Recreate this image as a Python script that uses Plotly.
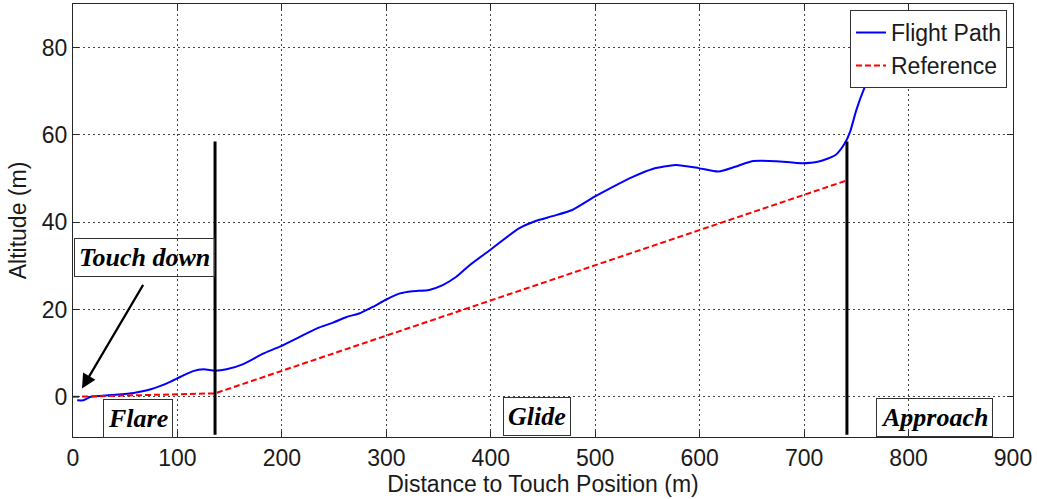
import plotly.graph_objects as go

# Measured flight path (distance to touch position, altitude)
path_x = [4, 10, 17, 36, 58, 71, 90, 103, 115, 125, 136, 147, 163, 182, 198, 220,
          236, 249, 262, 274, 287, 300, 313, 325, 341, 354, 367, 380, 399, 427, 443,
          459, 478, 499, 516, 536, 555, 577, 599, 618, 634, 650, 673, 698, 714, 730,
          739, 744, 750, 757, 763, 775, 790]
path_y = [-0.8, -0.8, 0.0, 0.4, 0.9, 1.5, 3.1, 4.6, 5.9, 6.3, 6.0, 6.3, 7.5, 9.9,
          11.5, 14.1, 15.9, 17.0, 18.3, 19.1, 20.6, 22.3, 23.7, 24.2, 24.5, 25.6,
          27.5, 30.2, 33.6, 38.6, 40.3, 41.4, 42.8, 45.8, 48.0, 50.4, 52.2, 53.1,
          52.4, 51.6, 52.7, 54.0, 54.0, 53.5, 53.9, 55.4, 58.1, 60.7, 65.7, 70.3,
          73.4, 78.5, 82.5]

# Reference glide slope
ref_x = [0, 136, 741]
ref_y = [0.0, 0.8, 49.6]

# Phase boundaries (flare/glide and glide/approach)
bound_x = [136, 741]
bound_y = [-8.7, 58.5]

# Phase labels
phase_text = ["Flare", "Glide", "Approach"]
phase_x = [62, 444, 825]
phase_y = [-5.0, -4.6, -4.8]

x_ticks = [0, 100, 200, 300, 400, 500, 600, 700, 800, 900]
y_ticks = [0, 20, 40, 60, 80]

fig = go.Figure()

fig.add_trace(go.Scatter(
    x=path_x, y=path_y, mode="lines", name="Flight Path",
    line=dict(color="#0000FF", width=2, shape="spline", smoothing=0.6),
))
fig.add_trace(go.Scatter(
    x=ref_x, y=ref_y, mode="lines", name="Reference",
    line=dict(color="#FF0000", width=2, dash="6px,3px"),
))
for bx in bound_x:
    fig.add_trace(go.Scatter(
        x=[bx, bx], y=bound_y, mode="lines", showlegend=False,
        line=dict(color="black", width=3), hoverinfo="skip",
    ))

label_font = dict(family="Liberation Serif", size=26, color="black",
                  weight="bold", style="italic")

for t, lx, ly in zip(phase_text, phase_x, phase_y):
    fig.add_annotation(
        x=lx, y=ly, xref="x", yref="y", text=t, showarrow=False,
        font=label_font, bordercolor="#333333", borderwidth=1, borderpad=4,
        bgcolor="rgba(255,255,255,0)",
    )

fig.add_annotation(
    x=68, y=32.0, xref="x", yref="y", text="Touch down", showarrow=False,
    font=label_font, bordercolor="#333333", borderwidth=1, borderpad=4,
    bgcolor="rgba(255,255,255,0)",
)
# Arrow pointing at the touch-down point
fig.add_annotation(
    x=8.6, y=1.9, ax=68, ay=26.0, xref="x", yref="y", axref="x", ayref="y",
    text="", showarrow=True, arrowhead=2, arrowsize=1.3, arrowwidth=2.2,
    arrowcolor="black",
)

axis_common = dict(
    showline=True, linecolor="#262626", linewidth=1, mirror="ticks",
    ticks="inside", ticklen=6, tickcolor="#262626",
    showgrid=True, gridcolor="#444444", gridwidth=1, griddash="2px,3px",
    zeroline=False, tickfont=dict(family="Liberation Sans", size=23, color="#1a1a1a"),
    title_font=dict(family="Liberation Sans", size=23, color="#1a1a1a"),
)

fig.update_xaxes(range=[0, 900], tickvals=x_ticks,
                 title=dict(text="Distance to Touch Position (m)", standoff=6),
                 **axis_common)
fig.update_yaxes(range=[-9.2, 90], tickvals=y_ticks,
                 title=dict(text="Altitude (m)", standoff=8),
                 **axis_common)

fig.update_layout(
    width=1037, height=499,
    margin=dict(l=73, r=24, t=4, b=62),
    plot_bgcolor="white", paper_bgcolor="white",
    legend=dict(
        x=0.9936, y=0.986, xanchor="right", yanchor="top",
        bgcolor="white", bordercolor="#333333", borderwidth=1,
        font=dict(family="Liberation Sans", size=23, color="#1a1a1a"),
        itemwidth=30, tracegroupgap=0,
    ),
    showlegend=True,
)

fig.write_html("out.html")
